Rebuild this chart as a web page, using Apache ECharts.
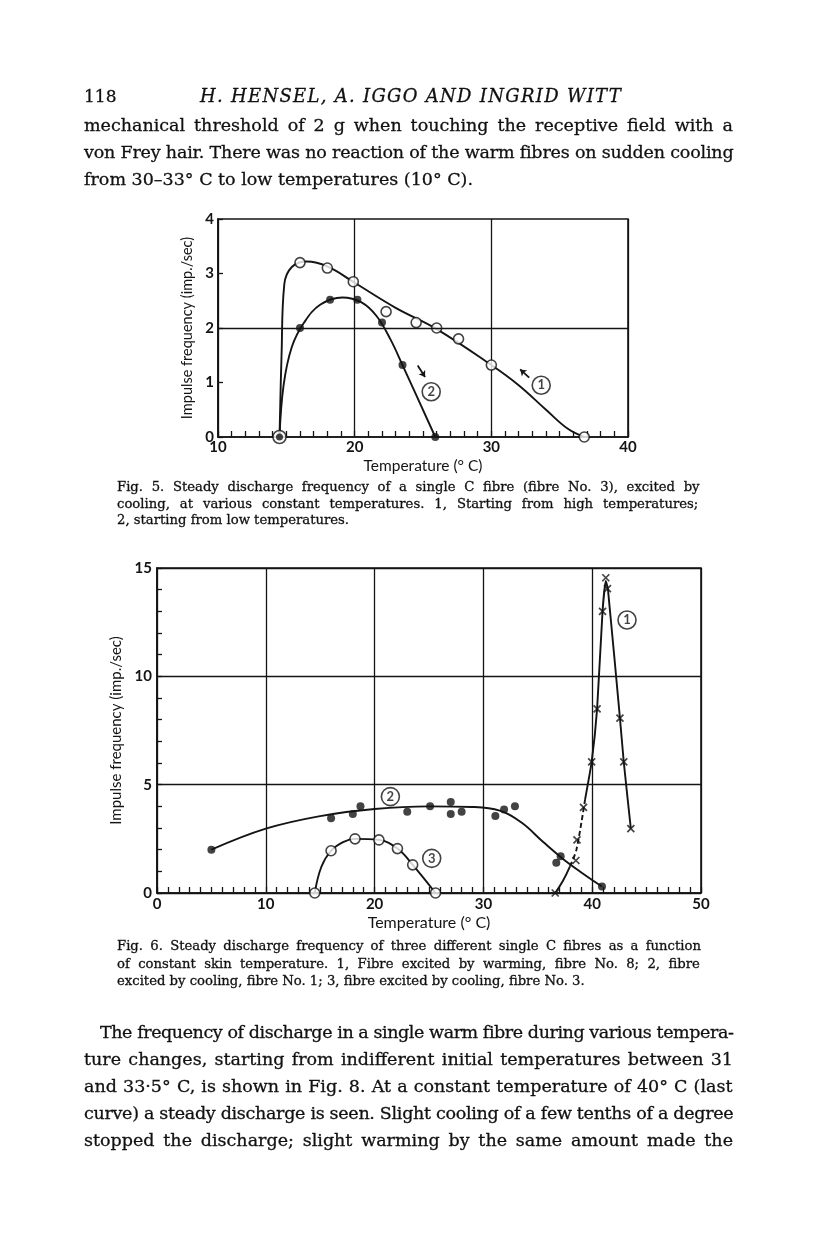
<!DOCTYPE html>
<html><head><meta charset="utf-8">
<script src="https://cdn.jsdelivr.net/npm/echarts@6/dist/echarts.min.js"></script>
<style>
html,body{margin:0;padding:0;background:#fff;}
#page{position:relative;width:816px;height:1234px;overflow:hidden;background:#fff;}
#chart{position:absolute;left:0;top:0;width:816px;height:1234px;}
.t{position:absolute;font-family:"DejaVu Serif",serif;color:#111;white-space:nowrap;-webkit-text-stroke:0.3px #111;}
</style></head><body>
<div id="page"><div id="chart"></div></div>
<script>
// ---------- text ----------
const headerPage = "118";
const headerTitle = "H. HENSEL, A. IGGO AND INGRID WITT";
const topLines = [
  "mechanical threshold of 2 g when touching the receptive field with a",
  "von Frey hair. There was no reaction of the warm fibres on sudden cooling",
  "from 30\u201333\u00b0 C to low temperatures (10\u00b0 C)."
];
const fig5Caption = [
  "Fig. 5.  Steady discharge frequency of a single C fibre (fibre No. 3), excited by",
  "cooling, at various constant temperatures.  1, Starting from high temperatures;",
  "2, starting from low temperatures."
];
const fig6Caption = [
  "Fig. 6.  Steady discharge frequency of three different single C fibres as a function",
  "of constant skin temperature.  1, Fibre excited by warming, fibre No. 8; 2, fibre",
  "excited by cooling, fibre No. 1; 3, fibre excited by cooling, fibre No. 3."
];
const bottomLines = [
  "The frequency of discharge in a single warm fibre during various tempera-",
  "ture changes, starting from indifferent initial temperatures between 31",
  "and 33\u00b75\u00b0 C, is shown in Fig. 8.  At a constant temperature of 40\u00b0 C (last",
  "curve) a steady discharge is seen.  Slight cooling of a few tenths of a degree",
  "stopped the discharge; slight warming by the same amount made the"
];

// ---------- Fig. 5 data ----------
const fig5XTicks = [10, 20, 30, 40];
const fig5YTicks = [0, 1, 2, 3, 4];
const fig5HGrid = [2];
const fig5Curve1Points = [[16,3.2],[18,3.1],[19.9,2.85],[22.3,2.3],[24.5,2.1],[26,2.0],[27.6,1.8],[30,1.32],[36.8,0]];
const fig5Curve1Line = [[14.5,0],[14.65,1.5],[14.85,2.8],[15.4,3.12],[16.5,3.22],[18,3.13],[20,2.83],[23,2.37],[26,1.98],[30,1.32],[32,0.95],[34,0.5],[35.6,0.15],[36.8,0]];
const fig5Curve2Points = [[16,2.0],[18.2,2.52],[20.2,2.52],[22,2.1],[23.5,1.32],[25.9,0]];
const fig5Curve2Line = [[14.5,0],[14.8,0.95],[15.4,1.65],[16.3,2.1],[17.5,2.43],[19.1,2.56],[20.5,2.47],[21.6,2.22],[22.6,1.8],[23.5,1.32],[25.9,0]];
const fig5Start = [[14.5,0]];
const fig5Labels = [[33.65,0.95,'1'],[25.6,0.83,'2']];
const fig5Arrows = [[[32.77,1.09],[32.11,1.24]], [[24.61,1.31],[25.15,1.10]]];

// ---------- Fig. 6 data ----------
const fig6XTicks = [0, 10, 20, 30, 40, 50];
const fig6YTicks = [0, 5, 10, 15];
const fig6Fibre1Points = [[36.6,0],[38.5,1.5],[38.6,2.45],[39.2,3.95],[39.95,6.05],[40.45,8.5],[40.95,13.0],[41.25,14.55],[41.4,14.05],[42.55,8.07],[42.9,6.05],[43.55,2.97]];
const fig6Fibre1LineA = [[36.6,0],[37.3,0.55],[37.96,1.23]];
const fig6Fibre1LineB = [[37.96,1.23],[38.55,2.0],[39.34,4.3]];
const fig6Fibre1LineC = [[39.34,4.3],[39.95,6.05],[40.45,8.5],[40.95,13.0],[41.25,14.4],[41.45,14.0],[42.55,8.07],[42.9,6.05],[43.55,2.97]];
const fig6Fibre2Points = [[5,2.0],[16,3.45],[18,3.65],[18.7,4.0],[23,3.75],[25.1,4.0],[27,4.2],[27,3.65],[28,3.75],[31.1,3.55],[31.9,3.85],[32.9,4.0],[36.7,1.4],[37.1,1.7],[40.9,0.3]];
const fig6Fibre2Line = [[5,2.0],[10,2.97],[15,3.55],[20,3.88],[25,4.0],[29,3.97],[31.5,3.8],[33.5,3.25],[35.5,2.35],[37.2,1.62],[39,0.95],[40.9,0.3]];
const fig6Fibre3Points = [[14.5,0],[16,1.95],[18.2,2.5],[20.4,2.45],[22.1,2.05],[23.5,1.3],[25.6,0]];
const fig6Fibre3Line = [[14.5,0],[15.1,1.2],[16,1.95],[17.1,2.35],[18.2,2.5],[20.4,2.45],[22.1,2.05],[23.5,1.3],[25.6,0]];
const fig6Labels = [[43.2,12.6,'1'],[21.45,4.45,'2'],[25.25,1.6,'3']];

// ---------- text placement ----------
const page = document.getElementById('page');
function addText(str, left, centerY, size, opts) {
  opts = opts || {};
  const d = document.createElement('div');
  d.className = 't';
  d.textContent = str;
  d.style.left = left + 'px';
  d.style.fontSize = size + 'px';
  d.style.lineHeight = (size * 1.2) + 'px';
  d.style.top = (centerY - size * 0.6) + 'px';
  if (opts.italic) d.style.fontStyle = 'italic';
  page.appendChild(d);
  if (opts.width) {
    const w = d.getBoundingClientRect().width;
    const extra = opts.width - w;
    const spaces = (str.match(/ /g) || []).length;
    if (opts.letters) {
      d.style.letterSpacing = (extra / str.length) + 'px';
    } else if (extra >= 0 && spaces > 0) {
      d.style.wordSpacing = (extra / spaces) + 'px';
    } else {
      d.style.letterSpacing = (extra / str.length) + 'px';
    }
  }
}
addText(headerPage, 84, 96, 17);
addText(headerTitle, 200, 96, 18, {italic: true, width: 422, letters: true});
topLines.forEach((s, i) => addText(s, 84, 125 + i * 27, 17.5, i < topLines.length - 1 ? {width: 649} : {}));
fig5Caption.forEach((s, i) => addText(s, 117, 487 + i * 16.5, 13.2, i < fig5Caption.length - 1 ? {width: 587} : {}));
fig6Caption.forEach((s, i) => addText(s, 117, 946 + i * 17.5, 13.2, i < fig6Caption.length - 1 ? {width: 587} : {}));
bottomLines.forEach((s, i) => addText(s, i === 0 ? 100 : 84, 1032 + i * 27, 17.5, {width: i === 0 ? 633 : 649}));

// ---------- chart ----------
const INK = '#141414';
const axisFont = {color: INK, fontFamily: 'Lato', fontWeight: 'bold', fontSize: 15};
const nameFont = {color: INK, fontFamily: 'Lato', fontWeight: 'normal', fontSize: 15.5};
function labelSet(ticks) { return v => ticks.indexOf(v) >= 0 ? String(v) : ''; }

const chart = echarts.init(document.getElementById('chart'), null, {renderer: 'canvas'});
const openCircle = {color: '#fff', borderColor: INK, borderWidth: 1.6};
const circledLabel = {show: true, position: 'inside', formatter: p => p.value[2], color: INK, fontFamily: 'Lato', fontWeight: 'bold', fontSize: 13};
const curveStyle = {color: INK, width: 1.9};

const option = {
  animation: false,
  backgroundColor: 'transparent',
  grid: [
    {left: 218, top: 219, width: 410, height: 218, show: true, borderColor: INK, borderWidth: 1.6, backgroundColor: 'transparent'},
    {left: 157, top: 568, width: 544, height: 325, show: true, borderColor: INK, borderWidth: 1.6, backgroundColor: 'transparent'}
  ],
  xAxis: [
    {gridIndex: 0, type: 'value', min: 10, max: 40, interval: 10,
     axisLine: {show: true, lineStyle: {color: INK, width: 1.6}},
     axisTick: {show: true, inside: true, length: 6, lineStyle: {color: INK, width: 1.3}},
     minorTick: {show: true, splitNumber: 10, length: 6, lineStyle: {color: INK, width: 1.3}},
     splitLine: {show: true, lineStyle: {color: INK, width: 1.3}},
     axisLabel: Object.assign({margin: 3, formatter: labelSet(fig5XTicks)}, axisFont),
     name: 'Temperature (\u00b0 C)', nameLocation: 'middle', nameGap: 21, nameTextStyle: nameFont},
    {gridIndex: 1, type: 'value', min: 0, max: 50, interval: 10,
     axisLine: {show: true, lineStyle: {color: INK, width: 1.6}},
     axisTick: {show: true, inside: true, length: 6, lineStyle: {color: INK, width: 1.3}},
     minorTick: {show: true, splitNumber: 10, length: 6, lineStyle: {color: INK, width: 1.3}},
     splitLine: {show: true, lineStyle: {color: INK, width: 1.3}},
     axisLabel: Object.assign({margin: 4, formatter: labelSet(fig6XTicks)}, axisFont),
     name: 'Temperature (\u00b0 C)', nameLocation: 'middle', nameGap: 22, nameTextStyle: Object.assign({}, nameFont, {fontSize: 16})}
  ],
  yAxis: [
    {gridIndex: 0, type: 'value', min: 0, max: 4, interval: 1,
     axisLine: {show: true, lineStyle: {color: INK, width: 1.6}},
     axisTick: {show: true, inside: true, length: 5, lineStyle: {color: INK, width: 1.3}},
     splitLine: {show: false},
     axisLabel: Object.assign({margin: 4, formatter: labelSet(fig5YTicks)}, axisFont),
     name: 'Impulse frequency (imp./sec)', nameLocation: 'middle', nameGap: 15, nameRotate: 90,
     nameTextStyle: Object.assign({}, nameFont, {fontSize: 14.5})},
    {gridIndex: 1, type: 'value', min: 0, max: 15, interval: 5,
     axisLine: {show: true, lineStyle: {color: INK, width: 1.6}},
     axisTick: {show: true, inside: true, length: 5, lineStyle: {color: INK, width: 1.3}},
     minorTick: {show: true, splitNumber: 5, length: 5, lineStyle: {color: INK, width: 1.3}},
     splitLine: {show: true, lineStyle: {color: INK, width: 1.3}},
     axisLabel: Object.assign({margin: 5, formatter: labelSet(fig6YTicks)}, axisFont),
     name: 'Impulse frequency (imp./sec)', nameLocation: 'middle', nameGap: 30, nameRotate: 90,
     nameTextStyle: Object.assign({}, nameFont, {fontSize: 15})}
  ],
  series: [
    // Fig 5 curves
    {type: 'line', xAxisIndex: 0, yAxisIndex: 0, data: fig5Curve1Line, smooth: 0.4, symbol: 'none', lineStyle: curveStyle, z: 2,
     markLine: {silent: true, symbol: 'none', label: {show: false}, lineStyle: {type: 'solid', color: INK, width: 1.3}, data: fig5HGrid.map(v => ({yAxis: v}))}},
    {type: 'line', xAxisIndex: 0, yAxisIndex: 0, data: fig5Curve2Line, smooth: 0.4, symbol: 'none', lineStyle: curveStyle, z: 2},
    {type: 'scatter', xAxisIndex: 0, yAxisIndex: 0, data: fig5Curve1Points, symbol: 'circle', symbolSize: 10, itemStyle: openCircle, z: 4},
    {type: 'scatter', xAxisIndex: 0, yAxisIndex: 0, data: fig5Curve2Points, symbol: 'circle', symbolSize: 8, itemStyle: {color: INK}, z: 4},
    {type: 'scatter', xAxisIndex: 0, yAxisIndex: 0, data: fig5Start, symbol: 'circle', symbolSize: 13, itemStyle: openCircle, z: 4},
    {type: 'scatter', xAxisIndex: 0, yAxisIndex: 0, data: fig5Start, symbol: 'circle', symbolSize: 7, itemStyle: {color: INK}, z: 5},
    {type: 'scatter', xAxisIndex: 0, yAxisIndex: 0, data: fig5Labels, symbol: 'circle', symbolSize: 18, itemStyle: openCircle, label: circledLabel, z: 5},
    {type: 'lines', coordinateSystem: 'cartesian2d', xAxisIndex: 0, yAxisIndex: 0, data: fig5Arrows.map(c => ({coords: c})),
     symbol: ['none', 'arrow'], symbolSize: 6, lineStyle: {color: INK, width: 1.8, opacity: 1}, z: 4},
    // Fig 6
    {type: 'line', xAxisIndex: 1, yAxisIndex: 1, data: fig6Fibre2Line, smooth: 0.4, symbol: 'none', lineStyle: curveStyle, z: 2},
    {type: 'line', xAxisIndex: 1, yAxisIndex: 1, data: fig6Fibre3Line, smooth: 0.4, symbol: 'none', lineStyle: curveStyle, z: 2},
    {type: 'line', xAxisIndex: 1, yAxisIndex: 1, data: fig6Fibre1LineA, smooth: 0.4, symbol: 'none', lineStyle: curveStyle, z: 2},
    {type: 'line', xAxisIndex: 1, yAxisIndex: 1, data: fig6Fibre1LineB, smooth: 0.3, symbol: 'none', lineStyle: {color: INK, width: 1.9, type: [5, 3]}, z: 2},
    {type: 'line', xAxisIndex: 1, yAxisIndex: 1, data: fig6Fibre1LineC, smooth: 0.15, symbol: 'none', lineStyle: curveStyle, z: 2},
    {type: 'scatter', xAxisIndex: 1, yAxisIndex: 1, data: fig6Fibre2Points, symbol: 'circle', symbolSize: 8, itemStyle: {color: INK}, z: 4},
    {type: 'scatter', xAxisIndex: 1, yAxisIndex: 1, data: fig6Fibre3Points, symbol: 'circle', symbolSize: 10, itemStyle: openCircle, z: 4},
    {type: 'scatter', xAxisIndex: 1, yAxisIndex: 1, data: fig6Fibre1Points, symbol: 'path://M0,0L10,10M10,0L0,10', symbolSize: 7,
     itemStyle: {color: 'rgba(0,0,0,0)', borderColor: INK, borderWidth: 1.7}, z: 4},
    {type: 'scatter', xAxisIndex: 1, yAxisIndex: 1, data: fig6Labels, symbol: 'circle', symbolSize: 18, itemStyle: openCircle, label: circledLabel, z: 5}
  ]
};
chart.setOption(option);
</script>
</body></html>
